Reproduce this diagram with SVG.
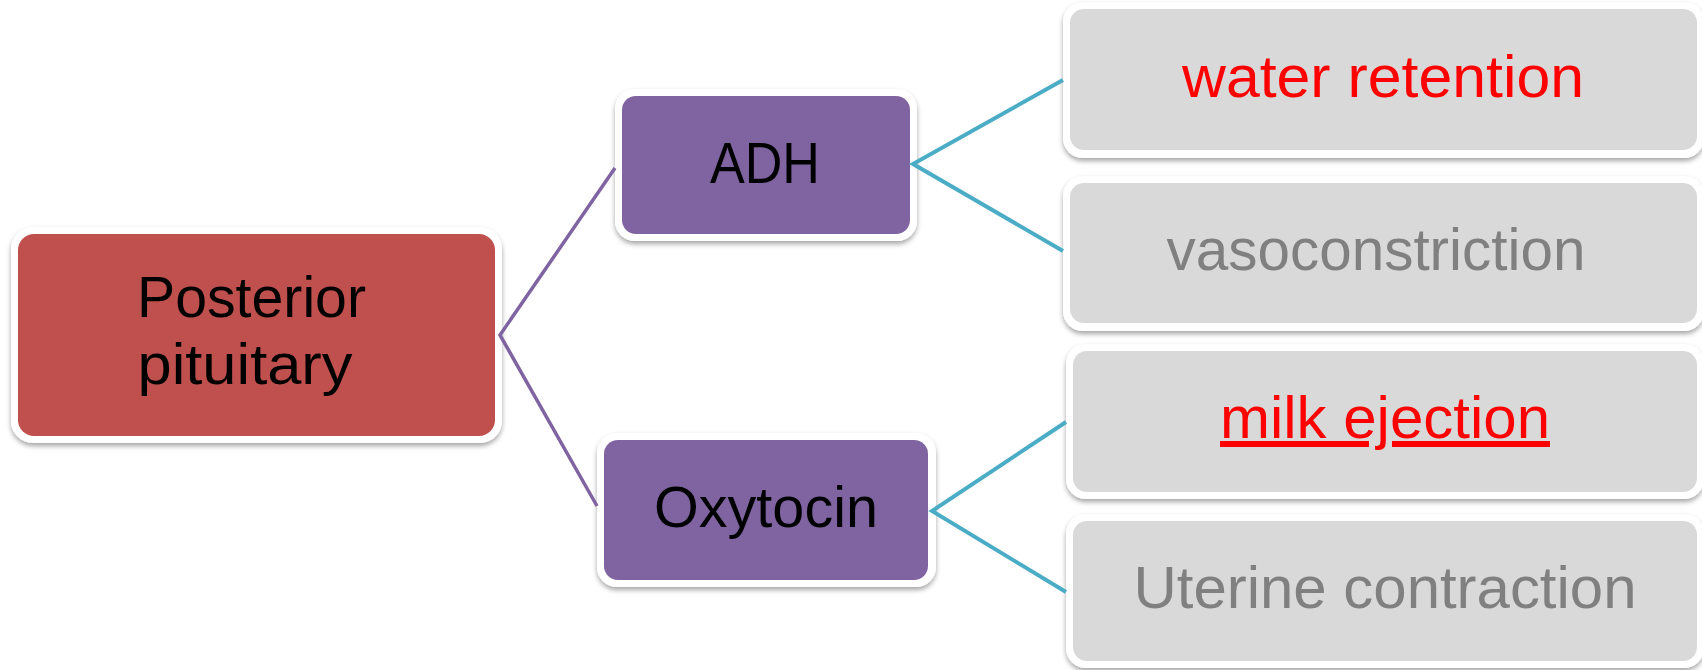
<svg xmlns="http://www.w3.org/2000/svg" width="1702" height="670" viewBox="0 0 1702 670">
  <defs>
    <filter id="sh" x="-10%" y="-10%" width="120%" height="130%">
      <feDropShadow dx="0" dy="3" stdDeviation="2.5" flood-color="#000" flood-opacity="0.35"/>
    </filter>
    <style>
      .frame { fill: #FFFFFF; filter: url(#sh); }
      .red { fill: #C0504D; }
      .purple { fill: #8064A2; }
      .grey { fill: #D9D9D9; }
      .lbl { font-family: "Liberation Sans", Arial, sans-serif; text-anchor: middle; }
      .big { font-size: 57px; fill: #000000; }
      .leaf { font-size: 60px; }
      .hot { fill: #FF0000; }
      .dim { fill: #808080; }
      .c-purple { stroke: #8064A2; stroke-width: 3.5; fill: none; stroke-linejoin: miter; }
      .c-teal { stroke: #4BACC6; stroke-width: 4; fill: none; stroke-linejoin: miter; }
    </style>
  </defs>
  <rect width="1702" height="670" fill="#FFFFFF"/>

  <g id="node-posterior">
    <rect class="frame" x="11" y="227" width="491" height="216" rx="22"/>
    <rect class="red" x="18" y="234" width="477" height="202" rx="16"/>
    <text class="lbl big" x="251.5" y="317" textLength="229" lengthAdjust="spacingAndGlyphs">Posterior</text>
    <text class="lbl big" x="245" y="384" textLength="215" lengthAdjust="spacingAndGlyphs">pituitary</text>
  </g>

  <g id="node-adh">
    <rect class="frame" x="615" y="89" width="302" height="152" rx="20"/>
    <rect class="purple" x="622" y="96" width="288" height="138" rx="14"/>
    <text class="lbl big" x="765" y="183" textLength="110" lengthAdjust="spacingAndGlyphs">ADH</text>
  </g>

  <g id="node-oxytocin">
    <rect class="frame" x="597" y="433" width="339" height="154" rx="20"/>
    <rect class="purple" x="604" y="440" width="324" height="140" rx="14"/>
    <text class="lbl big" x="766" y="527" textLength="224" lengthAdjust="spacingAndGlyphs">Oxytocin</text>
  </g>

  <g id="node-water">
    <rect class="frame" x="1063" y="2" width="641" height="156" rx="20"/>
    <rect class="grey" x="1070" y="9" width="627" height="141" rx="14"/>
    <text class="lbl leaf hot" x="1383" y="97" textLength="402" lengthAdjust="spacingAndGlyphs">water retention</text>
  </g>

  <g id="node-vaso">
    <rect class="frame" x="1063" y="176" width="641" height="155" rx="20"/>
    <rect class="grey" x="1070" y="183" width="627" height="140" rx="14"/>
    <text class="lbl leaf dim" x="1376" y="270" textLength="419" lengthAdjust="spacingAndGlyphs">vasoconstriction</text>
  </g>

  <g id="node-milk">
    <rect class="frame" x="1066" y="344" width="638" height="155" rx="20"/>
    <rect class="grey" x="1073" y="351" width="624" height="141" rx="14"/>
    <text class="lbl leaf hot" x="1385" y="438" text-decoration="underline" textLength="330" lengthAdjust="spacingAndGlyphs">milk ejection</text>
  </g>

  <g id="node-uterine">
    <rect class="frame" x="1066" y="514" width="638" height="154" rx="20"/>
    <rect class="grey" x="1073" y="521" width="624" height="140" rx="14"/>
    <text class="lbl leaf dim" x="1385" y="608" textLength="503" lengthAdjust="spacingAndGlyphs">Uterine contraction</text>
  </g>

  <g id="connectors">
    <polyline class="c-purple" points="615,168 500,335 597,506"/>
    <polyline class="c-teal" points="1063,80 913,164 1063,251"/>
    <polyline class="c-teal" points="1066,422 932,511 1066,592"/>
  </g>
</svg>
